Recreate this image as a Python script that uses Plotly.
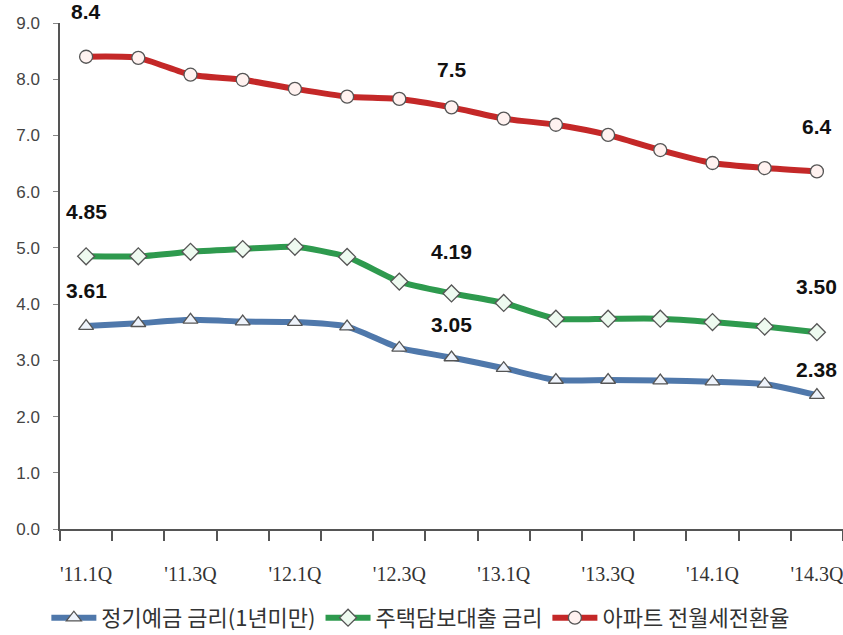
import plotly.graph_objects as go

quarters = ["'11.1Q", "'11.2Q", "'11.3Q", "'11.4Q", "'12.1Q", "'12.2Q", "'12.3Q", "'12.4Q",
            "'13.1Q", "'13.2Q", "'13.3Q", "'13.4Q", "'14.1Q", "'14.2Q", "'14.3Q"]
tick_labels = ["'11.1Q", "", "'11.3Q", "", "'12.1Q", "", "'12.3Q", "",
               "'13.1Q", "", "'13.3Q", "", "'14.1Q", "", "'14.3Q"]

deposit = [3.61, 3.66, 3.72, 3.69, 3.68, 3.60, 3.22, 3.05, 2.86, 2.65, 2.65, 2.64, 2.62, 2.58, 2.38]
mortgage = [4.85, 4.85, 4.93, 4.98, 5.02, 4.84, 4.40, 4.19, 4.02, 3.74, 3.74, 3.74, 3.68, 3.60, 3.50]
conversion = [8.4, 8.38, 8.08, 7.99, 7.83, 7.69, 7.65, 7.5, 7.30, 7.19, 7.01, 6.74, 6.51, 6.42, 6.36]

names = ["정기예금 금리(1년미만)", "주택담보대출 금리", "아파트 전월세전환율"]
label_idx = [0, 7, 14]
deposit_labels = ["3.61", "3.05", "2.38"]
mortgage_labels = ["4.85", "4.19", "3.50"]
conversion_labels = ["8.4", "7.5", "6.4"]

series = [
    (deposit, names[0], "#4f78ab", "triangle-up", "#eef3fb", deposit_labels, [36, 33, 26]),
    (mortgage, names[1], "#2e9a4e", "diamond", "#eefaf0", mortgage_labels, [45, 42, 46]),
    (conversion, names[2], "#c42828", "circle", "#fff2f0", conversion_labels, [45, 38, 45]),
]

fig = go.Figure()
for vals, name, color, sym, fill, labels, shifts in series:
    fig.add_trace(go.Scatter(
        x=quarters, y=vals, name=name, mode="lines+markers",
        line=dict(color=color, width=6, shape="spline", smoothing=0.6),
        marker=dict(symbol=sym, size=13, color=fill, line=dict(color="#555555", width=1.3)),
    ))
    for i, lab, sh in zip(label_idx, labels, shifts):
        fig.add_annotation(
            x=quarters[i], y=vals[i], text=f"<b>{lab}</b>", showarrow=False,
            yshift=sh, font=dict(family="Liberation Sans, Arial", size=21, color="#111111"),
        )

fig.update_layout(
    width=843, height=635,
    margin=dict(l=60, r=0, t=23, b=106),
    paper_bgcolor="white", plot_bgcolor="white",
    showlegend=True,
    legend=dict(orientation="h", x=0.055, xref="container", xanchor="left",
                y=0.06, yref="container", yanchor="top",
                font=dict(family="Noto Sans CJK KR", size=22, color="#333333"),
                itemwidth=45, tracegroupgap=0),
)
fig.update_xaxes(
    type="category", tickvals=quarters, ticktext=tick_labels, tickson="boundaries",
    ticks="outside", ticklen=10, tickcolor="#555555", tickwidth=1.5, tickangle=0,
    showline=True, linecolor="#555555", linewidth=1.5, showgrid=False, zeroline=False,
    tickfont=dict(family="Liberation Sans Narrow, Liberation Serif", size=20, color="#333333"),
    range=[-0.5, 14.5], ticklabelstandoff=26, automargin=False,
)
fig.update_yaxes(
    range=[0, 9], tickvals=[0, 1, 2, 3, 4, 5, 6, 7, 8, 9],
    ticktext=["0.0", "1.0", "2.0", "3.0", "4.0", "5.0", "6.0", "7.0", "8.0", "9.0"],
    ticks="outside", ticklen=5, tickcolor="#888888",
    showline=True, linecolor="#555555", linewidth=1.5, showgrid=False, zeroline=False,
    tickfont=dict(family="Liberation Sans, Arial", size=17, color="#444444"),
    ticklabelstandoff=10, automargin=False,
)
fig.write_html("out.html", config={"displayModeBar": False},
               post_script="document.body.style.margin='0px';")
